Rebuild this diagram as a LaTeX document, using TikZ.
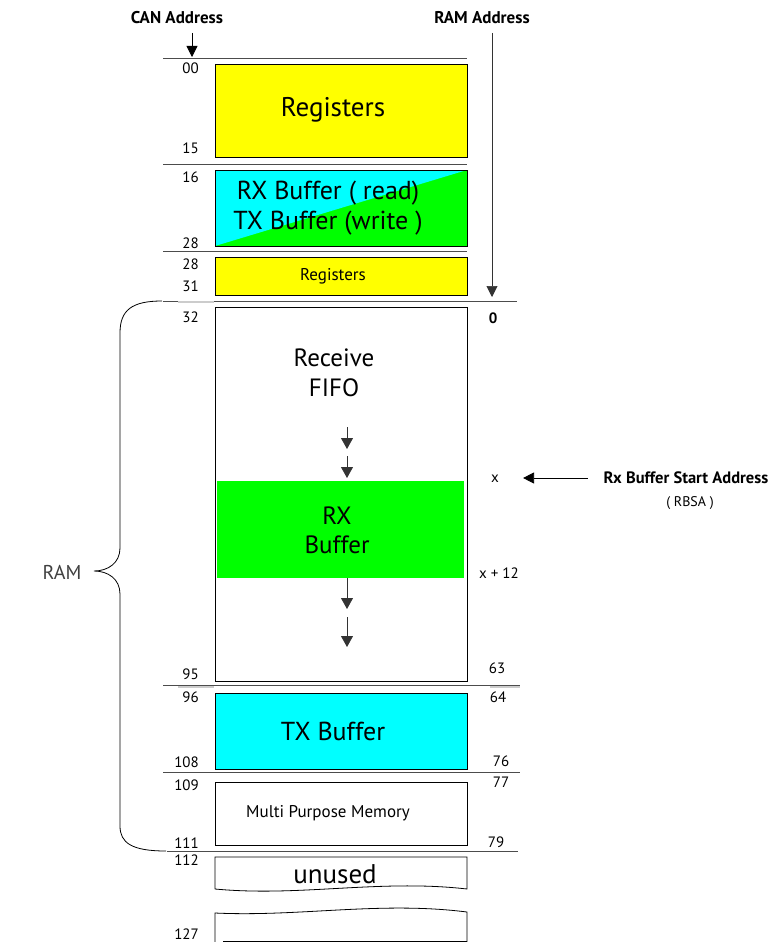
\documentclass[tikz,border=0pt]{standalone}
\usepackage{fontspec}
\setmainfont{PT Sans}
\usetikzlibrary{arrows.meta,positioning,calc}

\definecolor{regyellow}{RGB}{255,255,0}
\definecolor{bufcyan}{RGB}{0,255,255}
\definecolor{bufgreen}{RGB}{0,255,0}

\newcommand{\fs}[2]{\fontsize{#1}{#2}\selectfont}

\begin{document}
\begin{tikzpicture}[x=1pt, y=-1pt,
  box/.style={draw, line width=0.8pt, inner sep=0pt, minimum width=252pt},
  txt/.style={align=center, inner sep=0pt},
  sep/.style={draw=black!70, line width=0.7pt},
  smudge/.style={draw=black!20, line width=2pt},
  addr/.style={inner sep=0pt, font=\fs{15}{17}},
  head/.style={inner sep=0pt, font=\bfseries\fs{17}{19}},
  arrow/.style={-{Triangle[length=11pt, width=11pt]}, line width=0.8pt},
  flow/.style={-{Triangle[length=11pt, width=12pt]}, line width=0.8pt, draw=black!80}
]
\useasboundingbox (0,0) rectangle (773,942);

% Headings
\node[head] (can) at (177,18) {CAN Address};
\node[head] (ramaddr) at (482,18) {RAM Address};
\coordinate (canA) at (192,33);
\coordinate (canB) at (192,57);
\coordinate (ramA) at (492,33);
\coordinate (ramB) at (492,297);
\draw[arrow] (canA) -- (canB);
\draw[arrow, line width=0.6pt, draw=black!80] (ramA) -- (ramB);

% Separators
\draw[sep] (163,58) -- (467,58);
\draw[sep] (163,164) -- (467,164);
\draw[sep] (163,251) -- (467,251);
\draw[sep] (163,301) -- (517,301);
\draw[sep] (163,685) -- (520,685);
\draw[sep] (163,772) -- (520,772);
\draw[sep] (167,851) -- (518,851);
\draw[smudge] (178,302) -- (214,302);
\draw[smudge] (178,687) -- (214,687);
\draw[smudge] (490,687) -- (520,687);

% Register blocks
\node[box, fill=regyellow, minimum height=93pt] (reg) at (341,110.5) {};
\node[txt, font=\fs{27}{30}] (regtxt) at (333,110) {Registers};
\node[box, fill=bufgreen, minimum height=76pt,
      path picture={\fill[bufcyan] (path picture bounding box.north west)
        -- (path picture bounding box.north east)
        -- (path picture bounding box.south west) -- cycle;}] (rxtx) at (341,208) {};
\node[txt, font=\fs{26}{30}] (rxtxtxt) at (328,208) {RX Buffer ( read)\\TX Buffer (write )};
\node[box, fill=regyellow, minimum height=38pt] (regs) at (341,276) {};
\node[txt, font=\fs{17}{19}] (regstxt) at (333,276) {Registers};

% RAM blocks
\node[box, minimum height=374pt] (fifo) at (341,494) {};
\node[txt, font=\fs{25}{30}] (fifotxt) at (334,373) {Receive\\FIFO};
\node[fill=bufgreen, inner sep=0pt, minimum width=247pt, minimum height=97pt] (rxbuf) at (340.5,529.5) {};
\node[txt, font=\fs{25}{29}] (rxbuftxt) at (337,530) {RX\\Buffer};
\node[box, fill=bufcyan, minimum height=76pt] (txbuf) at (341,731) {};
\node[txt, font=\fs{26}{30}] (txbuftxt) at (333,731) {TX Buffer};
\node[box, minimum height=63pt] (mpm) at (341,813.5) {};
\node[txt, font=\fs{17}{19}] (mpmtxt) at (328,813) {Multi Purpose Memory};

% Unused region
\node[txt, font=\fs{27}{30}] (unused) at (335,874) {unused};
\draw[line width=0.8pt] (215,889) -- (215,857) -- (467,857) -- (467,889)
  .. controls (380,879) and (300,897) .. (215,889);
\draw[line width=0.8pt] (215,942) -- (215,913) .. controls (300,917) and (380,901) .. (467,912)
  -- (467,942);
\draw[line width=0.8pt] (223,941) -- (467,941);

% Flow arrows
\coordinate (f1) at (347,427);
\coordinate (f2) at (347,449);
\coordinate (f3) at (347,456);
\coordinate (f4) at (347,478);
\coordinate (f5) at (347,609);
\coordinate (f6) at (347,617);
\coordinate (f7) at (347,647);
\draw[flow] (f1) -- (f2);
\draw[flow] (f3) -- (f4);
\draw[flow] (rxbuf.south -| f5) -- (f5);
\draw[flow] (f6) -- (f7);

% CAN addresses
\foreach \lbl/\yy in {00/68, 15/148, 16/177, 28/243, 28/264, 31/286, 32/317,
                      95/674, 96/697, 108/762, 109/785, 111/843, 112/860, 127/934}
  \node[addr, anchor=east] at (199,\yy) {\lbl};

% RAM addresses
\node[addr, font=\bfseries\fs{15}{17}] (r0) at (493,318) {0};
\node[addr] (xlbl) at (495,479) {x};
\node[addr] (x12) at (499,573) {x + 12};
\node[addr] (r63) at (497,668) {63};
\node[addr] (r64) at (498,697) {64};
\node[addr] (r76) at (501,761) {76};
\node[addr] (r77) at (501,782) {77};
\node[addr] (r79) at (496,842) {79};

% Rx buffer start address
\node[head, font=\bfseries\fs{16.5}{19}] (rbsa) at (686,478) {Rx Buffer Start Address};
\node[addr, font=\fs{14}{16}] (rbsa2) at (690,503) {( RBSA )};
\draw[arrow] ([xshift=-16pt]rbsa.west) -- ([xshift=24pt]xlbl.east |- rbsa.west);

% RAM brace
\draw[line width=0.8pt] (162,301) .. controls (132,301) and (120,310) .. (120,333)
  -- (120,548) .. controls (120,563) and (108,571) .. (94,571)
  .. controls (108,571) and (120,579) .. (120,594)
  -- (120,826) .. controls (120,843) and (132,851) .. (166,851);
\node[font=\fs{20}{22}, text=black!75] (ram) at (62,572) {RAM};
\end{tikzpicture}
\end{document}
